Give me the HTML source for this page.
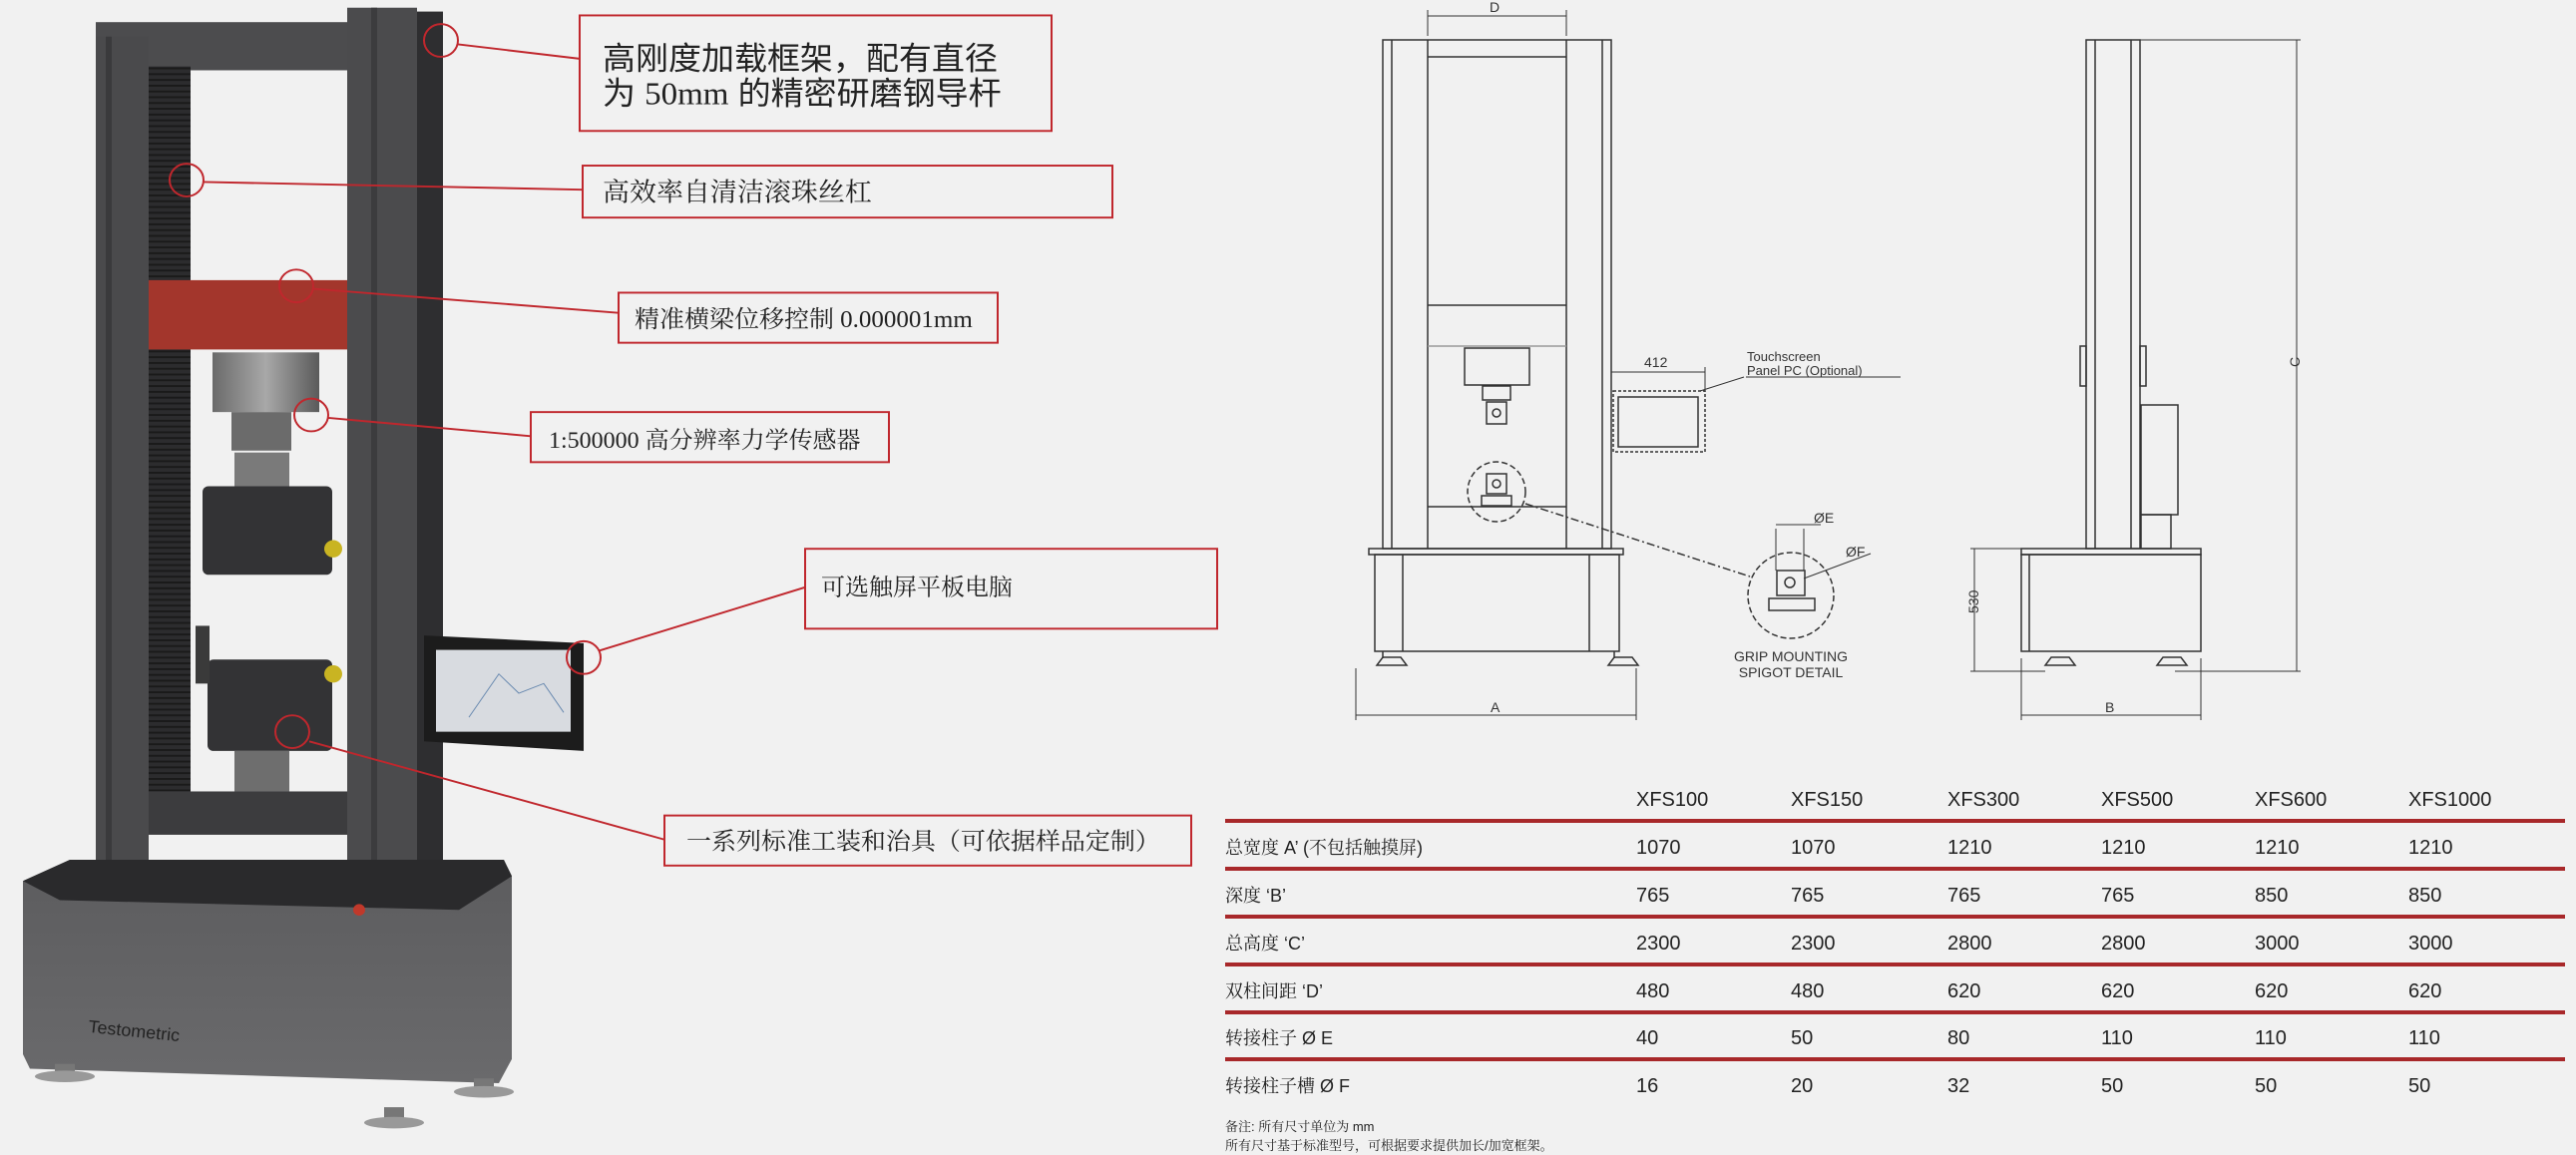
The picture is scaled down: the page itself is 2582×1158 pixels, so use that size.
<!DOCTYPE html>
<html><head><meta charset="utf-8"><style>
html,body{margin:0;padding:0;background:#f1f1f1;}
svg{display:block}
.s{font-family:"Liberation Serif","Noto Serif CJK SC",serif;fill:#222}
.a{font-family:"Liberation Sans","Noto Sans CJK SC",sans-serif;fill:#222}
.d{font-family:"Liberation Sans",sans-serif;fill:#333}
.t{font-family:"Liberation Sans","Noto Serif CJK SC",sans-serif;fill:#222;font-size:20px}
</style></head><body>
<svg width="2582" height="1158" viewBox="0 0 2582 1158" xmlns="http://www.w3.org/2000/svg">
<defs>
<pattern id="ser" width="8" height="6" patternUnits="userSpaceOnUse"><rect width="8" height="6" fill="#2c2c2e"/><rect y="4" width="8" height="2" fill="#1a1a1a"/></pattern>
<linearGradient id="base" x1="0" y1="0" x2="0" y2="1"><stop offset="0" stop-color="#5c5c5e"/><stop offset="1" stop-color="#6a6a6c"/></linearGradient>
<linearGradient id="cell" x1="0" y1="0" x2="1" y2="0"><stop offset="0" stop-color="#6a6a6a"/><stop offset=".5" stop-color="#a8a8a8"/><stop offset="1" stop-color="#5a5a5a"/></linearGradient>
</defs>
<rect width="2582" height="1158" fill="#f1f1f1"/>

<g transform="scale(1,0.9653)">
<!-- ===== MACHINE ===== -->
<rect x="96" y="23" width="252" height="50" fill="#4c4c4e"/>
<rect x="96" y="38" width="53" height="862" fill="#4a4a4c"/>
<rect x="106" y="38" width="6" height="862" fill="#3a3a3c"/>
<rect x="149" y="69" width="42" height="753" fill="url(#ser)"/>
<rect x="348" y="8" width="70" height="925" fill="#4b4b4d"/>
<rect x="372" y="8" width="6" height="925" fill="#3c3c3e"/>
<rect x="418" y="12" width="26" height="921" fill="#2e2e30"/>
<rect x="149" y="291" width="199" height="72" fill="#a3362c"/>
<rect x="213" y="366" width="107" height="62" fill="url(#cell)"/>
<rect x="232" y="428" width="60" height="40" fill="#6b6b6b"/>
<rect x="235" y="470" width="55" height="36" fill="#7a7a7a"/>
<rect x="203" y="505" width="130" height="92" rx="6" fill="#333335"/>
<circle cx="334" cy="570" r="9" fill="#c9b422"/>
<rect x="208" y="685" width="125" height="95" rx="6" fill="#333335"/>
<circle cx="334" cy="700" r="9" fill="#c9b422"/>
<rect x="235" y="780" width="55" height="42" fill="#6e6e6e"/>
<rect x="149" y="822" width="199" height="45" fill="#3c3c3e"/>
<rect x="196" y="650" width="14" height="60" fill="#3a3a3a"/>
<polygon points="23,915 70,893 505,893 513,910 513,1100 500,1125 30,1110 23,1095" fill="url(#base)"/>
<polygon points="23,915 70,893 505,893 513,910 460,945 60,935" fill="#2a2a2c"/>
<circle cx="360" cy="945" r="6" fill="#c0392b"/>
<text x="88" y="1072" class="a" font-size="18" fill="#8a4a44" transform="rotate(6 88 1072)">Testometric</text>
<rect x="55" y="1105" width="20" height="12" fill="#777"/><rect x="475" y="1120" width="20" height="14" fill="#777"/><rect x="385" y="1150" width="20" height="14" fill="#777"/>
<ellipse cx="65" cy="1118" rx="30" ry="6" fill="#999"/><ellipse cx="485" cy="1134" rx="30" ry="6" fill="#999"/><ellipse cx="395" cy="1166" rx="30" ry="6" fill="#999"/>
<polygon points="425,660 585,668 585,780 425,770" fill="#1c1c1c"/>
<rect x="437" y="675" width="135" height="85" fill="#d8dbe0"/>
<polyline points="470,745 500,700 520,720 545,710 565,740" fill="none" stroke="#6a8ab0" stroke-width="1"/>

<!-- callouts -->
<g stroke="#c0272d" stroke-width="2" fill="none">
<circle cx="442" cy="42" r="17"/><line x1="459" y1="46" x2="581" y2="61"/>
<circle cx="187" cy="187" r="17"/><line x1="204" y1="189" x2="584" y2="197"/>
<circle cx="297" cy="297" r="17"/><line x1="314" y1="300" x2="620" y2="325"/>
<circle cx="312" cy="431" r="17"/><line x1="329" y1="434" x2="532" y2="453"/>
<circle cx="585" cy="683" r="17"/><line x1="600" y1="676" x2="807" y2="610"/>
<circle cx="293" cy="760" r="17"/><line x1="310" y1="770" x2="666" y2="872"/>
<rect x="581" y="16" width="473" height="120"/>
<rect x="584" y="172" width="531" height="54"/>
<rect x="620" y="304" width="380" height="52"/>
<rect x="532" y="428" width="359" height="52"/>
<rect x="807" y="570" width="413" height="83"/>
<rect x="666" y="847" width="528" height="52"/>
</g>
<text x="604" y="72" class="a" font-size="33">高刚度加载框架，配有直径</text>
<text x="604" y="108" class="a" font-size="33">为 <tspan class="s">50mm</tspan> 的精密研磨钢导杆</text>
<text x="604" y="209" class="s" font-size="27">高效率自清洁滚珠丝杠</text>
<text x="636" y="340" class="s" font-size="25">精准横梁位移控制 0.000001mm</text>
<text x="550" y="465" class="s" font-size="24">1:500000 高分辨率力学传感器</text>
<text x="823" y="618" class="s" font-size="24">可选触屏平板电脑</text>
<text x="688" y="882" class="s" font-size="25">一系列标准工装和治具（可依据样品定制）</text>
</g>

<!-- ===== DRAWINGS ===== -->
<g stroke="#333" stroke-width="1.5" fill="none">
<rect x="1386" y="40" width="229" height="510"/>
<line x1="1395" y1="40" x2="1395" y2="550"/><line x1="1431" y1="40" x2="1431" y2="550"/>
<line x1="1570" y1="40" x2="1570" y2="550"/><line x1="1606" y1="40" x2="1606" y2="550"/>
<line x1="1431" y1="57" x2="1570" y2="57"/>
<line x1="1431" y1="306" x2="1570" y2="306"/>
<line x1="1431" y1="347" x2="1570" y2="347" stroke="#999"/>
<line x1="1431" y1="508" x2="1570" y2="508"/>
<rect x="1468" y="349" width="65" height="37"/>
<rect x="1486" y="387" width="28" height="14"/><rect x="1490" y="403" width="20" height="22"/><circle cx="1500" cy="414" r="4"/>
<rect x="1490" y="475" width="20" height="20"/><circle cx="1500" cy="485" r="4"/><rect x="1485" y="497" width="30" height="10"/>
<rect x="1372" y="550" width="255" height="6"/>
<rect x="1378" y="556" width="245" height="97"/>
<line x1="1406" y1="556" x2="1406" y2="653"/><line x1="1593" y1="556" x2="1593" y2="653"/>
<path d="M1380 667 h30 l-6 -8 h-18z M1612 667 h30 l-6 -8 h-18z"/>
<line x1="1386" y1="653" x2="1386" y2="660"/><line x1="1618" y1="653" x2="1618" y2="660"/>
<rect x="1617" y="392" width="92" height="61" stroke-dasharray="3 2"/>
<rect x="1622" y="398" width="80" height="50"/>
<ellipse cx="1500" cy="493" rx="29" ry="30" stroke-dasharray="6 3"/>
<line x1="1529" y1="505" x2="1754" y2="578" stroke-dasharray="8 3 2 3"/>
<circle cx="1795" cy="597" r="43" stroke-dasharray="6 3"/>
<rect x="1781" y="572" width="28" height="25"/><circle cx="1794" cy="584" r="5"/><rect x="1773" y="600" width="46" height="12"/>
<line x1="1780" y1="530" x2="1780" y2="572" stroke-width="1"/><line x1="1808" y1="530" x2="1808" y2="572" stroke-width="1"/>
<line x1="1780" y1="526" x2="1825" y2="526" stroke-width="1"/>
<line x1="1808" y1="580" x2="1875" y2="555" stroke-width="1"/>
<!-- side view -->
<rect x="2091" y="40" width="54" height="510"/>
<line x1="2100" y1="40" x2="2100" y2="550"/><line x1="2136" y1="40" x2="2136" y2="550"/>
<rect x="2085" y="347" width="6" height="40"/><rect x="2145" y="347" width="6" height="40"/>
<rect x="2146" y="406" width="37" height="110"/><rect x="2146" y="516" width="30" height="34"/>
<rect x="2026" y="550" width="180" height="6"/>
<rect x="2026" y="556" width="180" height="97"/>
<line x1="2034" y1="556" x2="2034" y2="653"/>
<path d="M2050 667 h30 l-6 -8 h-18z M2162 667 h30 l-6 -8 h-18z"/>
<g stroke-width="1">
<line x1="1431" y1="16" x2="1570" y2="16"/><line x1="1431" y1="10" x2="1431" y2="36"/><line x1="1570" y1="10" x2="1570" y2="36"/>
<line x1="1615" y1="373" x2="1709" y2="373"/><line x1="1709" y1="368" x2="1709" y2="392"/>
<line x1="1359" y1="717" x2="1640" y2="717"/><line x1="1359" y1="670" x2="1359" y2="722"/><line x1="1640" y1="670" x2="1640" y2="722"/>
<line x1="2026" y1="717" x2="2206" y2="717"/><line x1="2026" y1="660" x2="2026" y2="722"/><line x1="2206" y1="660" x2="2206" y2="722"/>
<line x1="2302" y1="40" x2="2302" y2="673"/><line x1="2145" y1="40" x2="2306" y2="40"/><line x1="2180" y1="673" x2="2306" y2="673"/>
<line x1="1979" y1="550" x2="1979" y2="673"/><line x1="1975" y1="550" x2="2026" y2="550"/><line x1="1975" y1="673" x2="2050" y2="673"/>
<line x1="1704" y1="392" x2="1748" y2="378"/><line x1="1750" y1="378" x2="1905" y2="378"/>
</g>
</g>
<g class="d">
<text x="1493" y="12" font-size="14">D</text>
<text x="1648" y="368" font-size="14">412</text>
<text x="1751" y="362" font-size="13">Touchscreen</text>
<text x="1751" y="376" font-size="13">Panel PC (Optional)</text>
<text x="1818" y="524" font-size="14">ØE</text>
<text x="1850" y="558" font-size="14">ØF</text>
<text x="1795" y="663" font-size="14" text-anchor="middle">GRIP MOUNTING</text>
<text x="1795" y="679" font-size="14" text-anchor="middle">SPIGOT DETAIL</text>
<text x="1494" y="714" font-size="14">A</text>
<text x="2110" y="714" font-size="14">B</text>
<text x="2297" y="366" font-size="14" transform="rotate(-90 2302 363)">C</text>
<text x="1972" y="618" font-size="14" transform="rotate(-90 1976 611)">530</text>
</g>

<!-- ===== TABLE ===== -->
<g fill="#a8282a">
<rect x="1228" y="821" width="1343" height="4"/><rect x="1228" y="869" width="1343" height="4"/>
<rect x="1228" y="917" width="1343" height="4"/><rect x="1228" y="965" width="1343" height="4"/>
<rect x="1228" y="1013" width="1343" height="4"/><rect x="1228" y="1060" width="1343" height="4"/>
</g>
<g class="t">
<text x="1640" y="808">XFS100</text><text x="1795" y="808">XFS150</text><text x="1952" y="808">XFS300</text><text x="2106" y="808">XFS500</text><text x="2260" y="808">XFS600</text><text x="2414" y="808">XFS1000</text>
<text x="1228" y="856" font-size="18">总宽度 A’ (不包括触摸屏)</text><text x="1640" y="856">1070</text><text x="1795" y="856">1070</text><text x="1952" y="856">1210</text><text x="2106" y="856">1210</text><text x="2260" y="856">1210</text><text x="2414" y="856">1210</text>
<text x="1228" y="904" font-size="18">深度 ‘B’</text><text x="1640" y="904">765</text><text x="1795" y="904">765</text><text x="1952" y="904">765</text><text x="2106" y="904">765</text><text x="2260" y="904">850</text><text x="2414" y="904">850</text>
<text x="1228" y="952" font-size="18">总高度 ‘C’</text><text x="1640" y="952">2300</text><text x="1795" y="952">2300</text><text x="1952" y="952">2800</text><text x="2106" y="952">2800</text><text x="2260" y="952">3000</text><text x="2414" y="952">3000</text>
<text x="1228" y="1000" font-size="18">双柱间距 ‘D’</text><text x="1640" y="1000">480</text><text x="1795" y="1000">480</text><text x="1952" y="1000">620</text><text x="2106" y="1000">620</text><text x="2260" y="1000">620</text><text x="2414" y="1000">620</text>
<text x="1228" y="1047" font-size="18">转接柱子 Ø E</text><text x="1640" y="1047">40</text><text x="1795" y="1047">50</text><text x="1952" y="1047">80</text><text x="2106" y="1047">110</text><text x="2260" y="1047">110</text><text x="2414" y="1047">110</text>
<text x="1228" y="1095" font-size="18">转接柱子槽 Ø F</text><text x="1640" y="1095">16</text><text x="1795" y="1095">20</text><text x="1952" y="1095">32</text><text x="2106" y="1095">50</text><text x="2260" y="1095">50</text><text x="2414" y="1095">50</text>
<text x="1228" y="1134" font-size="13">备注: 所有尺寸单位为 mm</text>
<text x="1228" y="1153" font-size="13">所有尺寸基于标准型号，可根据要求提供加长/加宽框架。</text>
</g>
</svg>
</body></html>
